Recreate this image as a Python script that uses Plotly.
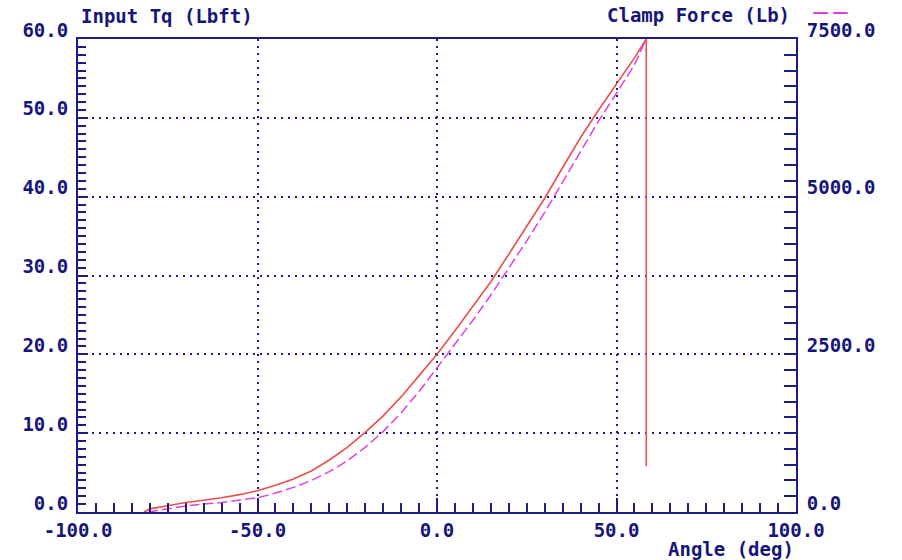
import plotly.graph_objects as go

# Input torque (Lbft) vs angle (deg) - red solid, left axis
tq_angle = [-81.6, -80, -75, -70, -65, -60, -55, -50, -45, -40, -35, -30, -25, -20, -15, -10, -5,
            0, 5, 10, 15, 20, 25, 30, 35, 40, 45, 50, 55, 58.3, 58.3]
tq_value = [0.0, 0.4, 0.8, 1.2, 1.5, 1.8, 2.2, 2.7, 3.4, 4.2, 5.2, 6.6, 8.2, 10.1, 12.2, 14.6, 17.3,
            20.0, 23.0, 26.1, 29.2, 32.7, 36.2, 39.8, 43.7, 47.5, 51.0, 54.3, 57.6, 60.0, 5.8]

# Clamp force (Lb) vs angle (deg) - magenta dashed, right axis
cf_angle = [-80.5, -75, -70, -65, -60, -55, -50, -45, -40, -35, -30, -25, -20, -15, -10, -5,
            0, 5, 10, 15, 20, 25, 30, 35, 40, 45, 50, 55, 58.3]
cf_value = [0, 50, 95, 125, 150, 190, 225, 300, 390, 500, 640, 810, 1025, 1275, 1575, 1910,
            2290, 2660, 3040, 3440, 3860, 4300, 4750, 5240, 5720, 6200, 6640, 7090, 7500]

x_ticks = [-100, -50, 0, 50, 100]
y_ticks = [0, 10, 20, 30, 40, 50, 60]
y2_ticks = [0, 2500, 5000, 7500]

NAVY = "#1c1c84"
TXT = "#16167a"
RED = "#e8504a"
MAG = "#e040e0"
FONT = "DejaVu Sans Mono"

fig = go.Figure()
fig.add_trace(go.Scatter(x=tq_angle, y=tq_value, mode="lines",
                         line=dict(color=RED, width=1.6), yaxis="y", showlegend=False))
fig.add_trace(go.Scatter(x=cf_angle, y=cf_value, mode="lines",
                         line=dict(color=MAG, width=1.5, dash="10px,4px"), yaxis="y2",
                         showlegend=False))

tickfont = dict(family=FONT, size=19, color=TXT, weight="bold")

fig.update_layout(
    width=902, height=560,
    margin=dict(l=78, r=106, t=39, b=48),
    paper_bgcolor="white", plot_bgcolor="white",
    xaxis=dict(range=[-100, 100], tickvals=x_ticks,
               ticktext=[f"{v:.1f}" for v in x_ticks], automargin=False,
               showline=True, linecolor=NAVY, linewidth=2, mirror=True,
               ticks="inside", ticklen=14, tickwidth=1.5, tickcolor=NAVY,
               minor=dict(dtick=5, ticks="inside", ticklen=9, tickwidth=1.5, tickcolor=NAVY, showgrid=False),
               showgrid=True, gridcolor=NAVY, gridwidth=2, griddash="2px,5px",
               zeroline=False, tickfont=tickfont, ticklabelstandoff=0),
    yaxis=dict(range=[0, 60], tickvals=y_ticks,
               ticktext=[f"{v:.1f}" for v in y_ticks], automargin=False,
               showline=True, linecolor=NAVY, linewidth=2,
               ticks="inside", ticklen=10, tickwidth=1.5, tickcolor=NAVY,
               minor=dict(dtick=1, ticks="inside", ticklen=8, tickwidth=1.5, tickcolor=NAVY, showgrid=False),
               showgrid=True, gridcolor=NAVY, gridwidth=2, griddash="2px,5px",
               zeroline=False, tickfont=tickfont, ticklabelshift=-9, ticklabelstandoff=4),
    yaxis2=dict(range=[0, 7500], tickvals=y2_ticks,
                ticktext=[f"{v:.1f}" for v in y2_ticks], automargin=False,
                overlaying="y", side="right",
                showline=True, linecolor=NAVY, linewidth=2,
                ticks="inside", ticklen=12, tickwidth=1.5, tickcolor=NAVY,
                minor=dict(dtick=250, ticks="inside", ticklen=12, tickwidth=1.5, tickcolor=NAVY, showgrid=False),
                showgrid=False, zeroline=False, tickfont=tickfont,
                ticklabelshift=-9, ticklabelstandoff=5),
)

titlefont = dict(family=FONT, size=19, color=TXT, weight="bold")
fig.add_annotation(text="Input Tq (Lbft)", xref="paper", yref="paper", x=0.002, y=1.0,
                   xanchor="left", yanchor="bottom", yshift=10, showarrow=False, font=titlefont)
fig.add_annotation(text="Clamp Force (Lb)", xref="paper", yref="paper", x=1.0, y=1.0,
                   xanchor="right", yanchor="bottom", yshift=11, xshift=-4, showarrow=False, font=titlefont)
fig.add_annotation(text="Angle (deg)", xref="paper", yref="paper", x=1.0, y=0,
                   xanchor="right", yanchor="top", yshift=-24, showarrow=False, font=titlefont)

# legend sample for clamp force (dashed magenta)
fig.add_shape(type="line", xref="paper", yref="paper", x0=1.024, x1=1.072, y0=1.055, y1=1.055,
              line=dict(color=MAG, width=2, dash="15px,5px"))

fig.write_html("out.html", config={"displayModeBar": False},
               post_script="document.body.style.margin='0';")
